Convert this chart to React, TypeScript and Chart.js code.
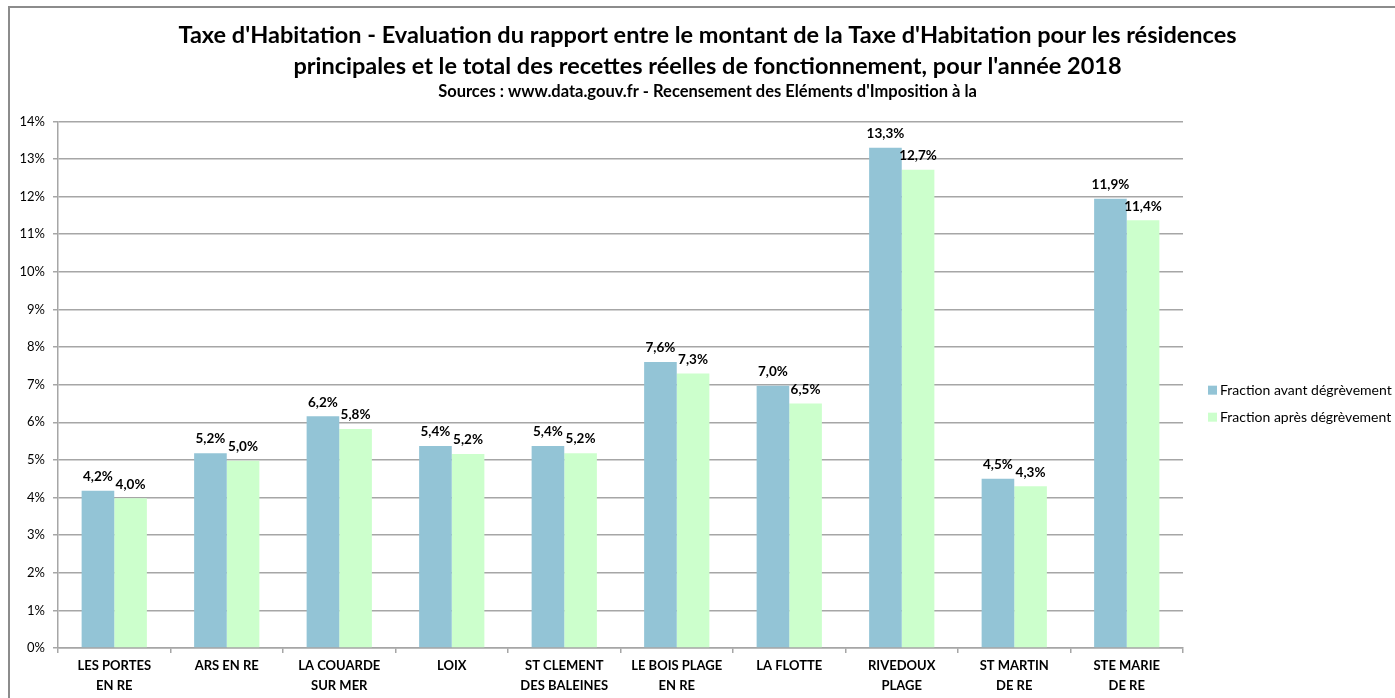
import { useEffect, useRef } from "react";
import { Chart, registerables } from "chart.js";
Chart.register(...registerables);

const FONT = 'Lato, "Open Sans", sans-serif';

const categories: string[][] = [
  ["LES PORTES", "EN RE"],
  ["ARS EN RE"],
  ["LA COUARDE", "SUR MER"],
  ["LOIX"],
  ["ST CLEMENT", "DES BALEINES"],
  ["LE BOIS PLAGE", "EN RE"],
  ["LA FLOTTE"],
  ["RIVEDOUX", "PLAGE"],
  ["ST MARTIN", "DE RE"],
  ["STE MARIE", "DE RE"],
];
const avantDegrevement = [4.18, 5.18, 6.16, 5.37, 5.37, 7.6, 6.97, 13.3, 4.5, 11.94];
const apresDegrevement = [3.98, 4.98, 5.82, 5.16, 5.18, 7.3, 6.5, 12.71, 4.3, 11.37];
const seriesNames = ["Fraction avant dégrèvement", "Fraction après dégrèvement"];
const seriesColors = ["#93c4d6", "#ccffcc"];
const titleLines = [
  "Taxe d'Habitation - Evaluation du rapport entre le montant de la Taxe d'Habitation pour les résidences",
  "principales et le total des recettes réelles de fonctionnement, pour l'année 2018",
];
const subtitleText = "Sources : www.data.gouv.fr - Recensement des Eléments d'Imposition à la";

const GRID = "#a6a6a6";

const fmt = (v: number) => (Math.round(v * 10) / 10).toFixed(1).replace(".", ",") + "%";

const labelPlugin = {
  id: "barLabels",
  afterDatasetsDraw(chart: any) {
    const ctx = chart.ctx;
    ctx.save();
    ctx.font = `bold 13.5px ${FONT}`;
    ctx.fillStyle = "#000";
    ctx.textAlign = "center";
    ctx.textBaseline = "middle";
    chart.data.datasets.forEach((ds: any, di: number) => {
      const meta = chart.getDatasetMeta(di);
      meta.data.forEach((el: any, i: number) => {
        ctx.fillText(fmt(ds.data[i]), el.x, el.y - 14);
      });
    });
    ctx.restore();
  },
};

const legendPlugin = {
  id: "sideLegend",
  afterDraw(chart: any) {
    const ctx = chart.ctx;
    const a = chart.chartArea;
    const mid = (a.top + a.bottom) / 2;
    ctx.save();
    ctx.font = `14px ${FONT}`;
    ctx.textBaseline = "middle";
    ctx.textAlign = "left";
    seriesNames.forEach((name, i) => {
      const y = mid + 5.5 + i * 27;
      const x = a.right + 25;
      ctx.fillStyle = seriesColors[i];
      ctx.fillRect(x, y - 4.5, 9, 9);
      ctx.fillStyle = "#000";
      ctx.fillText(name, x + 12, y);
    });
    ctx.restore();
  },
};

export default function App() {
  const ref = useRef<HTMLCanvasElement | null>(null);
  useEffect(() => {
    if (!ref.current) return;
    const chart = new Chart(ref.current, {
      type: "bar",
      data: {
        labels: categories,
        datasets: [
          {
            label: seriesNames[0],
            data: avantDegrevement,
            backgroundColor: seriesColors[0],
            categoryPercentage: 0.58,
            barPercentage: 1,
          },
          {
            label: seriesNames[1],
            data: apresDegrevement,
            backgroundColor: seriesColors[1],
            categoryPercentage: 0.58,
            barPercentage: 1,
          },
        ],
      },
      options: {
        animation: false,
        responsive: false,
        maintainAspectRatio: false,
        layout: { padding: { left: 20, right: 0, top: 0, bottom: 0 } },
        plugins: {
          legend: { display: false },
          tooltip: { enabled: false },
          title: {
            display: true,
            text: titleLines,
            color: "#000",
            font: { family: FONT, size: 23.5, weight: "bold", lineHeight: 1.32 },
            padding: { top: 19.5, bottom: 0 },
          },
          subtitle: {
            display: true,
            text: subtitleText,
            color: "#000",
            font: { family: FONT, size: 16.5, weight: "bold", lineHeight: 1.2 },
            padding: { top: 0, bottom: 20 },
          },
        },
        scales: {
          x: {
            grid: {
              offset: true,
              drawOnChartArea: false,
              drawTicks: true,
              tickLength: 5,
              color: GRID,
              lineWidth: 1.5,
            },
            border: { color: GRID, width: 1.5 },
            ticks: {
              color: "#000",
              font: { family: FONT, size: 13, weight: "bold", lineHeight: 1.6 },
              padding: 2,
              maxRotation: 0,
              autoSkip: false,
            },
            afterFit: (s: any) => {
              s.height = 50;
            },
          },
          y: {
            min: 0,
            max: 14,
            grid: { color: GRID, lineWidth: 1.5, tickLength: 5 },
            border: { color: GRID, width: 1.5 },
            ticks: {
              stepSize: 1,
              color: "#000",
              padding: 8,
              font: { family: FONT, size: 13 },
              callback: (v: any) => v + "%",
            },
            afterFit: (s: any) => {
              s.width = 38;
            },
          },
          legendSpace: {
            type: "linear",
            position: "right",
            display: true,
            grid: { display: false, drawTicks: false },
            border: { display: false },
            ticks: { display: false },
            afterFit: (s: any) => {
              s.width = 212;
            },
          },
        },
      },
      plugins: [labelPlugin, legendPlugin],
    } as any);
    return () => chart.destroy();
  }, []);

  return (
    <div
      style={{
        position: "fixed",
        left: 0,
        top: 0,
        width: 1395,
        height: 698,
        overflow: "hidden",
        background: "#fff",
      }}
    >
      <div
        style={{
          position: "absolute",
          left: 8,
          top: 6,
          width: 1400,
          height: 720,
          border: "2px solid #8c8c8c",
          boxSizing: "border-box",
        }}
      />
      <canvas
        ref={ref}
        width={1395}
        height={698}
        style={{ position: "absolute", left: 0, top: 0, width: 1395, height: 698 }}
      />
    </div>
  );
}
